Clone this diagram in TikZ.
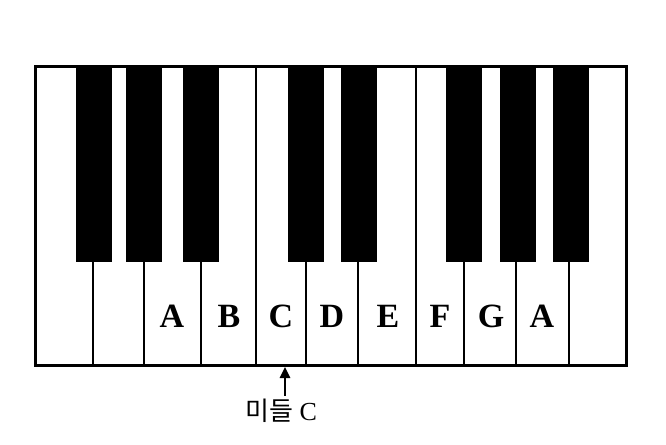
\documentclass[tikz,border=0pt]{standalone}
\usepackage{fontspec}
\setmainfont{Liberation Serif}
\newfontfamily\kor{Noto Sans CJK KR}
\usetikzlibrary{arrows.meta}

\begin{document}
\begin{tikzpicture}[x=1pt,y=-1pt]
        \useasboundingbox (0,0) rectangle (666,444);
        % white keys
        \foreach \a/\b in {35/93,93/144,144/201,201/256,256/306,306/358,358/416,416/464,464/516,516/569,569/626}
            \draw[line width=2.5pt] (\a,66) rectangle (\b,365);
        % black keys
        \foreach \c in {94,144,201,306,359,464,518,571}
            \fill (\c-18,66) rectangle (\c+18,262);
        \draw[line width=3pt] (35,66) rectangle (626,365);
        % note names
        \foreach \n/\x [count=\i] in {A/172,B/229,C/281,D/332,E/388,F/440,G/491,A/542}
            \node[font=\fontsize{34}{34}\bfseries] (key\i) at (\x,316) {\n};
        \node[font=\fontsize{26}{26}\selectfont] (midc) at (281,411) {{\kor 미들} C};
        \coordinate (tip) at (285,367);
        \draw[line width=2.5pt,-{Triangle[width=10pt,length=11pt]}] ([xshift=4pt]midc.north) -- (tip);
\end{tikzpicture}
\end{document}
